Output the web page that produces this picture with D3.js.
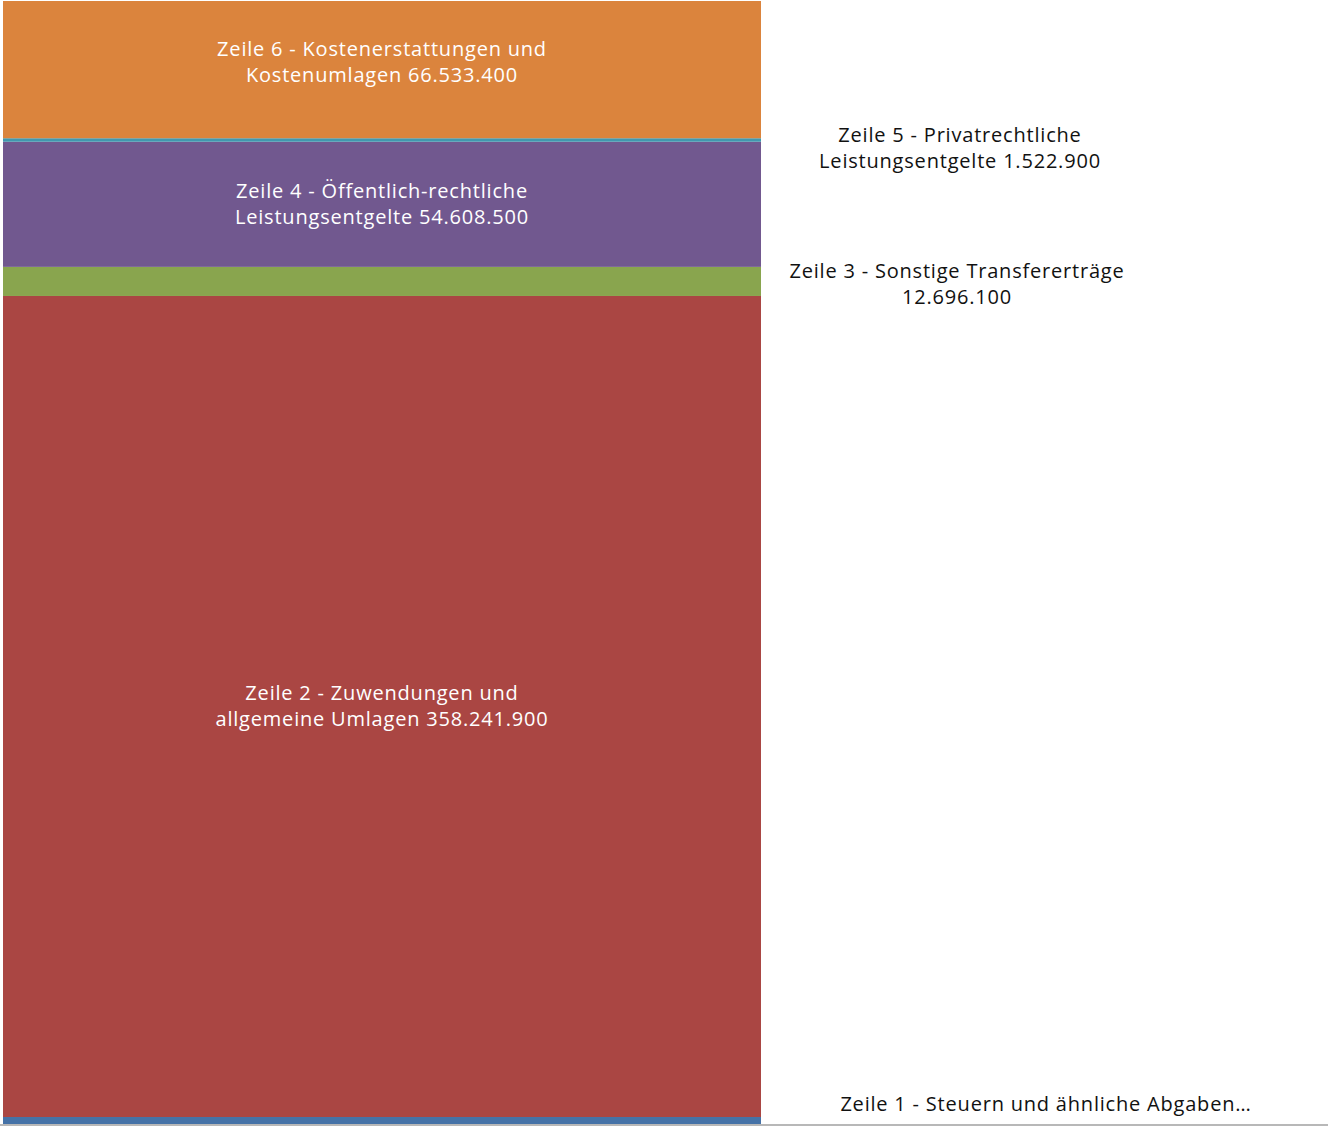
<!DOCTYPE html>
<html>
<head>
<meta charset="utf-8">
<script src="https://cdn.jsdelivr.net/npm/d3@7"></script>
<style>
  html, body { margin: 0; padding: 0; background: #fff; }
  svg { display: block; }
  text { font-family: "Open Sans", "DejaVu Sans", sans-serif; }
</style>
</head>
<body>
<svg id="chart" width="1328" height="1129"></svg>
<script>
// ---- data ----
const categories = ["Zeile 1", "Zeile 2", "Zeile 3", "Zeile 4", "Zeile 5", "Zeile 6"];
const values = [3050000, 358241900, 12696100, 54608500, 1522900, 66533400];
const colors = ["#4572A7", "#AA4643", "#89A54E", "#71588F", "#4198AF", "#DB843D"];
const labelLines = [
  ["Zeile 1 - Steuern und ähnliche Abgaben…"],
  ["Zeile 2 - Zuwendungen und", "allgemeine Umlagen 358.241.900"],
  ["Zeile 3 - Sonstige Transfererträge", "12.696.100"],
  ["Zeile 4 - Öffentlich-rechtliche", "Leistungsentgelte 54.608.500"],
  ["Zeile 5 - Privatrechtliche", "Leistungsentgelte 1.522.900"],
  ["Zeile 6 - Kostenerstattungen und", "Kostenumlagen 66.533.400"]
];
const labelInside = [false, true, false, true, false, true];
const yDomain = [0, 490000000];
const barCategory = ["Erträge"];

// ---- layout ----
const W = 1328, H = 1129;
const plotTop = 1, plotBottom = 1124;
const svg = d3.select("#chart");

const x = d3.scaleBand().domain(barCategory).range([3, 761]).padding(0);
const y = d3.scaleLinear().domain(yDomain).range([plotBottom, plotTop]);

// stack
let acc = 0;
const segs = values.map((v, i) => {
  const s = { i, y0: acc, y1: acc + v };
  acc += v;
  return s;
});

svg.append("defs").append("clipPath").attr("id", "plotclip")
  .append("rect").attr("x", 0).attr("y", plotTop).attr("width", W).attr("height", plotBottom - plotTop);

const g = svg.append("g").attr("clip-path", "url(#plotclip)");
g.selectAll("rect.seg").data(segs).enter().append("rect")
  .attr("class", "seg")
  .attr("x", x(barCategory[0]))
  .attr("width", x.bandwidth())
  .attr("y", d => y(d.y1))
  .attr("height", d => y(d.y0) - y(d.y1))
  .attr("fill", d => colors[d.i]);

// baseline
svg.append("line")
  .attr("x1", 0).attr("x2", W)
  .attr("y1", plotBottom + 1).attr("y2", plotBottom + 1)
  .attr("stroke", "#b8b8b8").attr("stroke-width", 2);

// labels
const lineH = 26;
const outsideX = { 0: 1046, 2: 957, 4: 960 };
const nudge = { 0: 0, 2: 2.5, 4: 8 };
const labels = svg.append("g").attr("font-size", 20).attr("letter-spacing", "0.8px");
segs.forEach(d => {
  const lines = labelLines[d.i];
  let cy = (y(d.y0) + y(d.y1)) / 2;
  let cx;
  if (labelInside[d.i]) {
    cx = x(barCategory[0]) + x.bandwidth() / 2;
  } else {
    cx = outsideX[d.i];
    cy += nudge[d.i] || 0;
    cy = Math.min(cy, plotBottom - 20);
  }
  const t = labels.append("text")
    .attr("text-anchor", "middle")
    .attr("fill", labelInside[d.i] ? "#ffffff" : "#111111");
  const startY = cy - (lines.length - 1) * lineH / 2;
  lines.forEach((ln, k) => {
    t.append("tspan").attr("x", cx).attr("y", startY + k * lineH)
      .attr("dy", "0.35em").text(ln);
  });
});
</script>
</body>
</html>
